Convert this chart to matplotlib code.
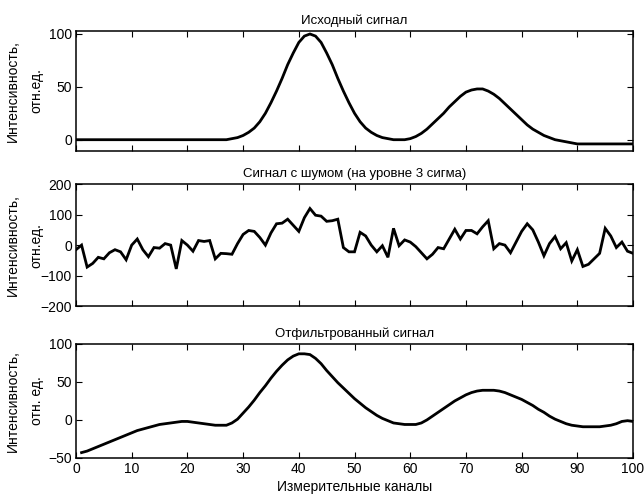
#%%
import matplotlib
matplotlib.use("Agg")
import matplotlib.pyplot as plt
import numpy as np

# %% Data
channels_src = np.arange(0, 101)
signal_src = [0] * 28 + [
    1, 2, 4, 7, 11, 17, 25, 35, 46, 58,
    71, 82, 92, 98, 100, 98, 92, 82, 71, 58,
    46, 35, 25, 17, 11, 7, 4, 2, 1, 0,
    0, 0, 1, 3, 6, 10, 15, 20, 25, 31,
    36, 41, 45, 47, 48, 48, 46, 43, 39, 34,
    29, 24, 19, 14, 10, 7, 4, 2, 0, -1,
    -2, -3, -4] + [-4] * 10

channels_noise = np.arange(0, 101)
signal_noise = [
    -15, 0, -72, -60, -40, -45, -25, -15, -22, -48,
    0, 20, -15, -38, -8, -10, 5, 0, -78, 15,
    0, -20, 15, 12, 15, -45, -27, -28, -30, 5,
    35, 48, 45, 25, 0, 40, 70, 72, 85, 65,
    45, 90, 120, 98, 95, 78, 80, 85, -8, -22,
    -22, 42, 30, 0, -22, -2, -40, 55, -2, 17,
    10, -5, -25, -45, -30, -8, -12, 20, 52, 20,
    48, 48, 37, 60, 80, -12, 5, 0, -25, 10,
    45, 70, 50, 10, -35, 5, 28, -12, 8, -52,
    -15, -70, -63, -45, -27, 55, 30, -8, 10, -20,
    -27]

channels_filt = np.arange(1, 101)
signal_filt = [
    -43, -41, -38, -35, -32, -29, -26, -23, -20, -17,
    -14, -12, -10, -8, -6, -5, -4, -3, -2, -2,
    -3, -4, -5, -6, -7, -7, -7, -4, 1, 9,
    17, 26, 36, 45, 55, 64, 72, 79, 84, 87,
    87, 86, 81, 74, 65, 57, 49, 42, 35, 28,
    22, 16, 11, 6, 2, -1, -4, -5, -6, -6,
    -6, -4, 0, 5, 10, 15, 20, 25, 29, 33,
    36, 38, 39, 39, 39, 38, 36, 33, 30, 27,
    23, 19, 14, 10, 5, 1, -2, -5, -7, -8,
    -9, -9, -9, -9, -8, -7, -5, -2, -1, -2]

titles = ["Исходный сигнал",
          "Сигнал с шумом (на уровне 3 сигма)",
          "Отфильтрованный сигнал"]
ylabels = ["Интенсивность,\nотн.ед.",
           "Интенсивность,\nотн.ед.",
           "Интенсивность,\nотн. ед."]
yticks = [[0, 50, 100], [-200, -100, 0, 100, 200], [-50, 0, 50, 100]]
ylims = [(-10.5, 103), (-200, 200), (-50, 100)]
xticks = np.arange(0, 101, 10)

# %% Figure
plt.rcParams['font.family'] = ['Liberation Sans', 'DejaVu Sans']
plt.rcParams['font.size'] = 10

fig = plt.figure(figsize=(6.44, 5.01), dpi=100)
boxes = [[0.118, 0.699, 0.865, 0.2395],
         [0.118, 0.389, 0.865, 0.2435],
         [0.118, 0.086, 0.865, 0.2275]]
series = [(channels_src, signal_src),
          (channels_noise, signal_noise),
          (channels_filt, signal_filt)]

for i in range(3):
    ax = fig.add_axes(boxes[i])
    x, y = series[i]
    ax.plot(x, y, color='black', lw=2.0, solid_joinstyle='miter')
    ax.set_xlim(0, 100)
    ax.set_ylim(*ylims[i])
    ax.set_xticks(xticks)
    ax.set_yticks(yticks[i])
    ax.tick_params(direction='in', top=True, right=True, length=4,
                   labelsize=10, pad=3)
    ax.set_title(titles[i], fontsize=9.5, pad=5)
    ax.set_ylabel(ylabels[i], fontsize=10, linespacing=1.9)
    # same label position on all three panels, like the original
    ax.yaxis.set_label_coords(-0.058, 0.5)
    for s in ax.spines.values():
        s.set_linewidth(1.1)
    if i < 2:
        ax.set_xticklabels([])
    else:
        ax.set_xlabel("Измерительные каналы", fontsize=10, labelpad=3)

fig.savefig("out.png", dpi=100)
